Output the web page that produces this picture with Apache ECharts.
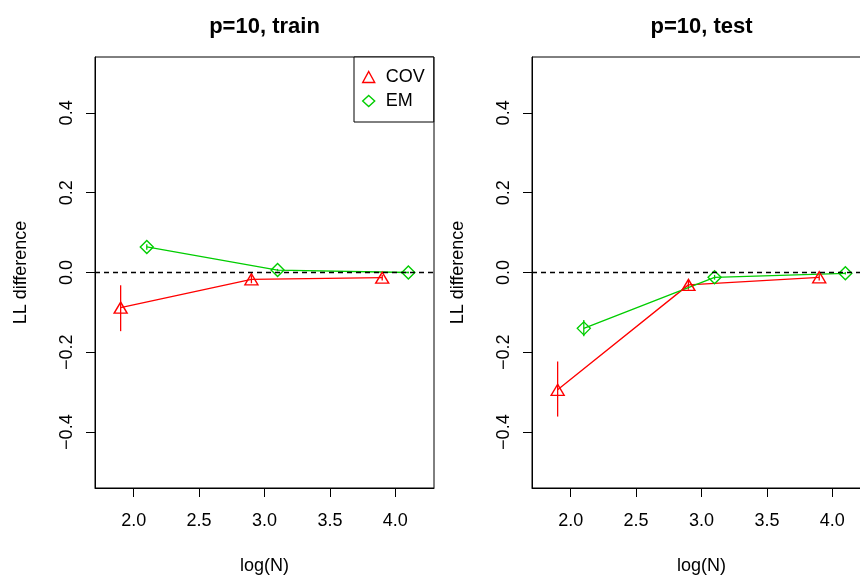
<!DOCTYPE html>
<html>
<head>
<meta charset="utf-8">
<script src="https://cdn.jsdelivr.net/npm/echarts@6/dist/echarts.min.js"></script>
<style>html,body{margin:0;padding:0;background:#fff;}#c{width:860px;height:575px;}</style>
</head>
<body>
<div id="c"></div>
<script>
// ---- data ----
var xCOV = [1.9, 2.9, 3.9];
var xEM = [2.1, 3.1, 4.1];
var panelTitles = ['p=10, train', 'p=10, test'];
var yTicks = [-0.4, -0.2, 0.0, 0.2, 0.4];
var xTicks = [2.0, 2.5, 3.0, 3.5, 4.0];
// train panel
var trainCOV = [-0.088, -0.017, -0.013];
var trainCOVlo = [-0.147, -0.027, -0.020];
var trainCOVhi = [-0.032, -0.007, -0.006];
var trainEM = [0.064, 0.006, 0.000];
var trainEMlo = [0.057, 0.003, -0.002];
var trainEMhi = [0.071, 0.009, 0.002];
// test panel
var testCOV = [-0.294, -0.031, -0.012];
var testCOVlo = [-0.361, -0.043, -0.020];
var testCOVhi = [-0.223, -0.019, -0.005];
var testEM = [-0.140, -0.012, -0.002];
var testEMlo = [-0.160, -0.018, -0.005];
var testEMhi = [-0.119, -0.006, 0.001];

var RED = '#FF0000', GREEN = '#00CD00';
var FONT = 'Liberation Sans, Arial, Helvetica, sans-serif';

function pts(xs, ys) { return xs.map(function (x, i) { return [x, ys[i]]; }); }
function errs(xs, lo, hi) { return xs.map(function (x, i) { return [x, lo[i], hi[i]]; }); }

var chart = echarts.init(document.getElementById('c'), null, {renderer: 'canvas'});

var grids = [
  {left: 95, top: 57, width: 339, height: 431},
  {left: 532, top: 57, width: 339, height: 431}
];
var centers = [264.5, 701.5];

function makeX(i) {
  return {
    type: 'value', gridIndex: i, min: 1.704, max: 4.296,
    name: 'log(N)', nameLocation: 'middle', nameGap: 69,
    nameTextStyle: {fontFamily: FONT, fontSize: 18, color: '#000'},
    axisLine: {show: true, onZero: false, lineStyle: {color: '#000', width: 1}},
    axisTick: {show: true, customValues: xTicks, length: 9, lineStyle: {color: '#000'}},
    axisLabel: {customValues: xTicks, margin: 24, fontFamily: FONT, fontSize: 18, color: '#000',
      formatter: function (v) { return v.toFixed(1); }},
    splitLine: {show: false}
  };
}
function makeY(i) {
  return {
    type: 'value', gridIndex: i, min: -0.54, max: 0.54,
    name: 'LL difference', nameLocation: 'middle', nameGap: 65, nameRotate: 90,
    nameTextStyle: {fontFamily: FONT, fontSize: 18, color: '#000'},
    axisLine: {show: true, onZero: false, lineStyle: {color: '#000', width: 1}},
    axisTick: {show: true, customValues: yTicks, length: 9, lineStyle: {color: '#000'}},
    axisLabel: {customValues: yTicks, rotate: 90, margin: 19, fontFamily: FONT, fontSize: 18, color: '#000',
      formatter: function (v) { return (v < 0 ? '\u2212' : '') + Math.abs(v).toFixed(1); }},
    splitLine: {show: false}
  };
}

function errSeries(name, i, data, color) {
  return {
    type: 'custom', name: name, xAxisIndex: i, yAxisIndex: i, data: data, silent: true, z: 3,
    renderItem: function (params, api) {
      var a = api.coord([api.value(0), api.value(1)]);
      var b = api.coord([api.value(0), api.value(2)]);
      return {type: 'line', shape: {x1: a[0], y1: a[1], x2: b[0], y2: b[1]},
        style: {stroke: color, lineWidth: 1.3}};
    }
  };
}
function lineSeries(name, i, data, color, sym, size, withZero) {
  var s = {
    type: 'line', name: name, xAxisIndex: i, yAxisIndex: i, data: data,
    symbol: sym, symbolSize: size, showAllSymbol: true, z: 4,
    lineStyle: {color: color, width: 1.3},
    itemStyle: {color: 'rgba(0,0,0,0)', borderColor: color, borderWidth: 1.4},
    emphasis: {disabled: true}, animation: false
  };
  if (withZero) {
    s.markLine = {silent: true, symbol: 'none', label: {show: false},
      lineStyle: {color: '#000', type: [5, 4], width: 1.3},
      data: [{yAxis: 0}]};
  }
  return s;
}

var option = {
  animation: false,
  backgroundColor: '#fff',
  textStyle: {fontFamily: FONT},
  title: panelTitles.map(function (t, i) {
    return {text: t, left: centers[i] - 5, textAlign: 'center', top: 11,
      textStyle: {fontFamily: FONT, fontSize: 22, fontWeight: 'bold', color: '#000'}};
  }),
  grid: grids.map(function (g) {
    return Object.assign({show: true, borderColor: '#000', borderWidth: 1, backgroundColor: 'transparent',
      containLabel: false, outerBoundsMode: 'none'}, g);
  }),
  xAxis: [makeX(0), makeX(1)],
  yAxis: [makeY(0), makeY(1)],
  legend: {
    orient: 'vertical', left: 354, top: 57, padding: [11, 9, 12, 8], itemGap: 6,
    itemWidth: 12, itemHeight: 11,
    borderColor: '#000', borderWidth: 1, backgroundColor: '#fff',
    textStyle: {fontFamily: FONT, fontSize: 18, lineHeight: 18, color: '#000', padding: [0, 0, 0, 6]},
    data: [
      {name: 'COV', icon: 'triangle', itemStyle: {color: 'rgba(0,0,0,0)', borderColor: RED, borderWidth: 1.4}},
      {name: 'EM', icon: 'diamond', itemStyle: {color: 'rgba(0,0,0,0)', borderColor: GREEN, borderWidth: 1.4}}
    ]
  },
  series: [
    lineSeries('COV', 0, pts(xCOV, trainCOV), RED, 'triangle', [13, 11], true),
    lineSeries('EM', 0, pts(xEM, trainEM), GREEN, 'diamond', 13, false),
    errSeries('COVerr', 0, errs(xCOV, trainCOVlo, trainCOVhi), RED),
    errSeries('EMerr', 0, errs(xEM, trainEMlo, trainEMhi), GREEN),
    lineSeries('COV', 1, pts(xCOV, testCOV), RED, 'triangle', [13, 11], true),
    lineSeries('EM', 1, pts(xEM, testEM), GREEN, 'diamond', 13, false),
    errSeries('COVerr', 1, errs(xCOV, testCOVlo, testCOVhi), RED),
    errSeries('EMerr', 1, errs(xEM, testEMlo, testEMhi), GREEN)
  ]
};
chart.setOption(option);
</script>
</body>
</html>
